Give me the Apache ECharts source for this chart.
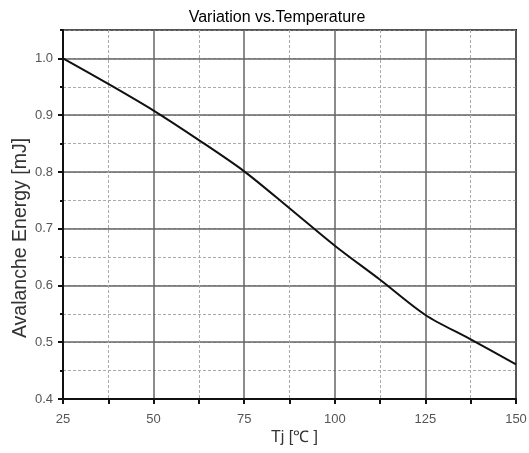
<!DOCTYPE html>
<html>
<head>
    <meta charset="utf-8">
    <title>Variation vs.Temperature</title>
    <script src="https://cdn.jsdelivr.net/npm/echarts@6/dist/echarts.min.js"></script>
    <style>
        html, body { margin: 0; padding: 0; background: #fff; }
    </style>
</head>
<body>
    <div id="main" style="width: 529px; height: 453px;"></div>
    <script type="text/javascript">
        var temps = [25, 37.5, 50, 62.5, 75, 87.5, 100, 112.5, 125, 137.5, 150];
        var energy = [1.0, 0.955, 0.908, 0.856, 0.801, 0.736, 0.670, 0.610, 0.548, 0.505, 0.461];

        var points = temps.map(function (t, i) { return [t, energy[i]]; });

        var font = 'Liberation Sans, Arial, sans-serif';
        var myChart = echarts.init(document.getElementById('main'));

        var option = {
            backgroundColor: '#fff',
            animation: false,
            title: {
                text: 'Variation vs.Temperature',
                left: 272,
                textAlign: 'center',
                top: 5,
                textStyle: { fontFamily: font, fontSize: 16, fontWeight: 'normal', color: '#000' }
            },
            grid: {
                left: 63, right: 13, top: 30, bottom: 54,
                outerBoundsMode: 'none',
                show: true,
                borderColor: '#222',
                borderWidth: 2
            },
            xAxis: {
                type: 'value',
                min: 25, max: 150, interval: 25,
                name: 'Tj [℃ ]',
                nameLocation: 'middle',
                nameGap: 31,
                nameMoveOverlap: false,
                nameTextStyle: { fontFamily: font, fontSize: 16, color: '#333', padding: [0, 0, 0, 10] },
                axisLine: { lineStyle: { color: '#111', width: 2 } },
                axisTick: { length: 5, lineStyle: { color: '#111', width: 2 } },
                minorTick: { show: true, splitNumber: 2, length: 5, lineStyle: { color: '#111', width: 2 } },
                axisLabel: { fontFamily: font, fontSize: 13, color: '#555', margin: 14 },
                splitLine: { show: true, lineStyle: { color: '#666', width: 1.5 } },
                minorSplitLine: { show: true, lineStyle: { color: '#aaa', width: 1, type: [3, 2] } }
            },
            yAxis: [
                {
                    // half steps: dashed lines and small ticks
                    type: 'value',
                    min: 0.4, max: 1.05, interval: 0.05,
                    axisLine: { show: false },
                    axisTick: { length: 3, lineStyle: { color: '#111', width: 2 } },
                    axisLabel: { show: false },
                    splitLine: { show: true, lineStyle: { color: '#aaa', width: 1, type: [3, 2] } }
                },
                {
                    type: 'value',
                    position: 'left',
                    min: 0.4, max: 1.05, interval: 0.1,
                    name: 'Avalanche Energy [mJ]',
                    nameLocation: 'middle',
                    nameGap: 32,
                    nameMoveOverlap: false,
                    nameTextStyle: { fontFamily: font, fontSize: 19.5, color: '#333', padding: [0, 47, 0, 0] },
                    axisLine: { show: true, lineStyle: { color: '#111', width: 2 } },
                    axisTick: { length: 5, lineStyle: { color: '#111', width: 2 } },
                    axisLabel: {
                        fontFamily: font, fontSize: 13, color: '#555', margin: 10,
                        showMaxLabel: false,
                        formatter: function (v) { return v.toFixed(1); }
                    },
                    splitLine: { show: true, lineStyle: { color: '#666', width: 1.5 } }
                }
            ],
            series: [
                {
                    type: 'line',
                    yAxisIndex: 1,
                    data: points,
                    smooth: 0.3,
                    showSymbol: false,
                    lineStyle: { color: '#111', width: 2 }
                }
            ]
        };

        myChart.setOption(option);
    </script>
</body>
</html>
